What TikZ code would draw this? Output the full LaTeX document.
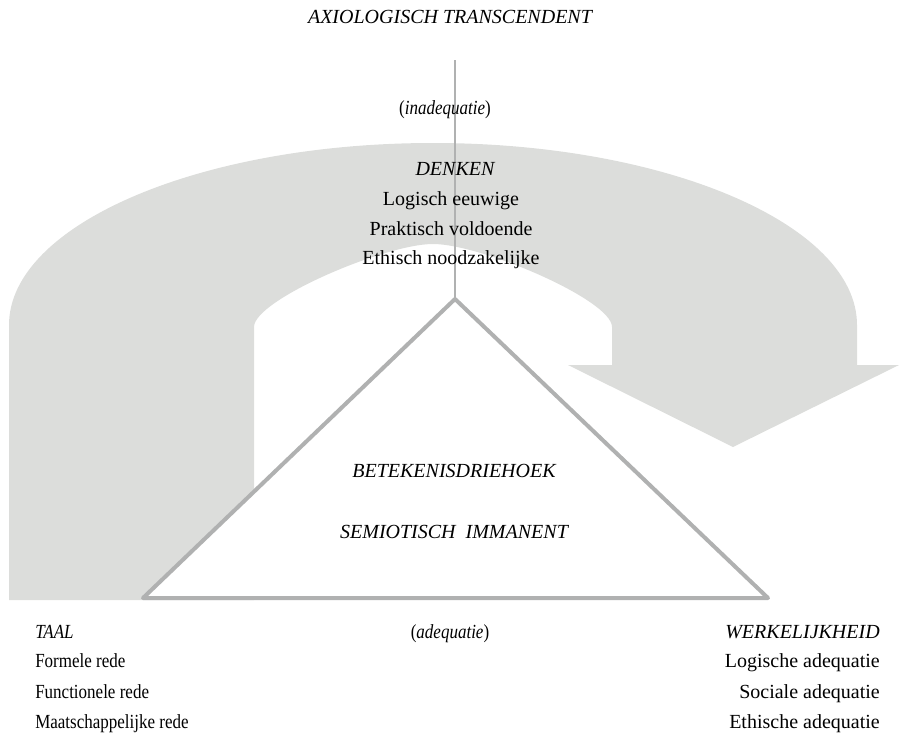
\documentclass[tikz,border=0pt]{standalone}
\usepackage{fontspec}
\usepackage{graphicx}
\setmainfont{Liberation Serif}
\usetikzlibrary{positioning}

\definecolor{arrowgray}{HTML}{DCDDDB}
\definecolor{linegray}{HTML}{B0B1B1}

% condensed text, as in the lower left block
\newcommand{\narrow}[1]{\scalebox{0.85}[1]{#1}}

\tikzset{
  txt/.style={anchor=base,inner sep=0pt,font=\fontsize{15}{18}\selectfont},
  ittxt/.style={txt,font=\fontsize{15}{18}\selectfont\itshape},
  sideline/.style={draw=linegray,line width=3pt,line join=round}
}

\begin{document}
\begin{tikzpicture}[x=0.75pt,y=-0.75pt]
\useasboundingbox (0,0) rectangle (899,736);

% grey bent arrow behind everything
\fill[arrowgray] (9,600) -- (9,325)
  .. controls (9,225) and (199,143) .. (433,143)
  .. controls (667,143) and (857,225) .. (857,325)
  -- (857,365) -- (899,365) -- (733,447) -- (568,365) -- (612,365) -- (612,327)
  .. controls (612,300) and (481,244) .. (433,244)
  .. controls (385,244) and (254,300) .. (254,327)
  -- (254,600) -- cycle;

% triangle and axis
\coordinate (apex) at (455,299);
\coordinate (lbase) at (143,598);
\coordinate (rbase) at (768,598);
\coordinate (axtop) at (455,60);
\filldraw[fill=white,sideline] (apex) -- (lbase) -- (rbase) -- cycle;
\draw[draw=linegray,line width=2.2pt] (axtop) -- (apex);

% top
\node[ittxt] (axio) at (450,23) {AXIOLOGISCH TRANSCENDENT};
\node[txt] (inad) at (445,114) {\narrow{(\textit{inadequatie})}};

\node[ittxt] (denken) at (455,175) {DENKEN};
\node[txt] (logisch) at (451,205) {Logisch eeuwige};
\node[txt] (praktisch) at (451,235) {Praktisch voldoende};
\node[txt] (ethisch) at (451,264) {Ethisch noodzakelijke};

% inside the triangle
\node[ittxt] (driehoek) at (454,477) {BETEKENISDRIEHOEK};
\node[ittxt] (semio) at (454,538) {SEMIOTISCH\ \ IMMANENT};

% bottom
\node[ittxt,anchor=base west] (taal) at (35,638) {\narrow{TAAL}};
\node[txt,anchor=base west] (formeel) at (35,667) {\narrow{Formele rede}};
\node[txt,anchor=base west] (functie) at (35,698) {\narrow{Functionele rede}};
\node[txt,anchor=base west] (maatsch) at (35,728) {\narrow{Maatschappelijke rede}};

\node[txt] (adeq) at (450,638) {\narrow{(\textit{adequatie})}};

\node[ittxt,anchor=base east] (werkel) at (880,638) {WERKELIJKHEID};
\node[txt,anchor=base east] (logad) at (880,667) {Logische adequatie};
\node[txt,anchor=base east] (socad) at (880,698) {Sociale adequatie};
\node[txt,anchor=base east] (ethad) at (880,728) {Ethische adequatie};
\end{tikzpicture}
\end{document}
